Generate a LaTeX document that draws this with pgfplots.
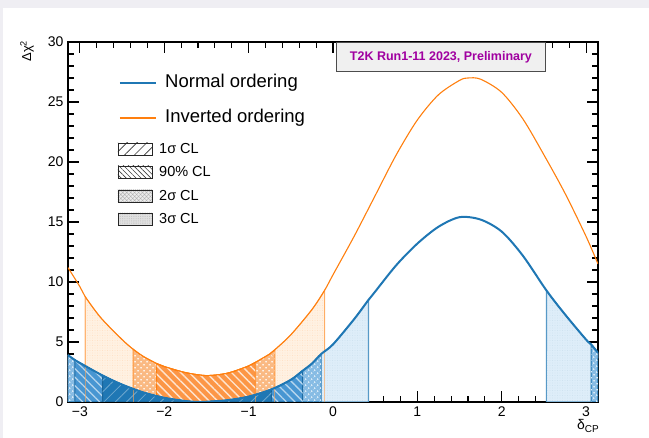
\documentclass[border=0pt]{standalone}
\usepackage{pgfplots}
\pgfplotsset{compat=1.18}
\usepackage{pgfplotstable}
\usepgfplotslibrary{fillbetween}
\usetikzlibrary{patterns,patterns.meta}
\usepackage{fontspec}
\setmainfont{Liberation Sans}

\definecolor{bgGrey}{RGB}{239,238,243}
\definecolor{noBlue}{RGB}{31,119,180}
\definecolor{ioOrange}{RGB}{255,127,14}
\definecolor{titlePurple}{RGB}{160,0,160}
% region fills
\definecolor{noThree}{RGB}{222,237,249}
\definecolor{noTwo}{RGB}{135,188,228}
\definecolor{noNinety}{RGB}{72,150,210}
\definecolor{ioThree}{RGB}{255,241,226}
\definecolor{ioTwo}{RGB}{250,185,130}
\definecolor{ioNinety}{RGB}{252,150,70}

% Normal ordering
\pgfplotstableread{
d chi
-3.1416 3.9
-3.06 3.5
-3.0 3.25
-2.73 2.2
-2.5 1.45
-2.25 0.8
-2.0 0.35
-1.75 0.08
-1.6 0.0
-1.5 0.02
-1.25 0.15
-1.0 0.45
-0.73 1.05
-0.5 1.85
-0.36 2.6
-0.25 3.2
-0.14 4.0
0.0 4.8
0.25 6.9
0.42 8.5
0.5 9.2
0.75 11.4
1.0 13.2
1.25 14.6
1.5 15.4
1.75 15.2
2.0 14.2
2.25 12.2
2.53 9.3
2.75 7.3
3.0 5.2
3.06 4.8
3.1416 4.1
}\noTable

% Inverted ordering
\pgfplotstableread{
d chi
-3.1416 11.2
-3.0 9.6
-2.94 8.8
-2.75 7.0
-2.5 5.2
-2.37 4.4
-2.25 3.8
-2.09 3.2
-2.0 2.95
-1.75 2.45
-1.5 2.2
-1.25 2.4
-1.0 3.0
-0.92 3.3
-0.75 4.0
-0.69 4.35
-0.5 5.6
-0.25 7.7
-0.1 9.3
0.0 10.6
0.25 13.8
0.5 17.2
0.75 20.6
1.0 23.5
1.25 25.6
1.5 26.8
1.6 27.0
1.75 26.9
2.0 25.8
2.25 23.6
2.5 20.6
2.75 17.4
3.0 13.8
3.1416 11.5
}\ioTable

\begin{document}
\begin{tikzpicture}[x=1pt,y=1pt]
\begin{axis}[
    scale only axis, width=530pt, height=360pt,
    xmin=-3.14159, xmax=3.14159, ymin=0, ymax=30,
    xtick={-3,-2,-1,0,1,2,3},
    xticklabels={−3,−2,−1,0,1,2,3},
    ytick={0,5,10,15,20,25,30},
    yticklabels={0,5,10,15,20,25,30},
    minor x tick num=4, minor y tick num=4,
    tick align=inside,
    major tick length=11pt, minor tick length=6pt,
    axis line style={line width=1.4pt},
    every tick/.style={black, line width=1.1pt},
    ticklabel style={font=\fontsize{14}{16}\selectfont},
    xticklabel style={yshift=-1pt},
    yticklabel style={xshift=-1pt},
    /pgf/number format/assume math mode=true,
]
\coordinate (O) at (rel axis cs:0,0);
\addplot[draw=none, name path=zero, forget plot] coordinates {(-3.1416,0) (3.1416,0)};
\addplot[draw=none, smooth, tension=0.5, name path=io, forget plot] table[x=d,y=chi]{\ioTable};
\addplot[draw=none, smooth, tension=0.5, name path=no, forget plot] table[x=d,y=chi]{\noTable};

% inverted ordering regions
\addplot[fill=ioThree, draw=ioOrange!55, line width=1pt,
    postaction={pattern={Dots[distance=2.5pt,radius=0.45pt]}, pattern color=ioOrange!30}]
    fill between[of=io and zero, soft clip={domain=-2.94:-0.1}];
\addplot[fill=ioTwo, draw=ioOrange!80, line width=1pt,
    postaction={pattern={Dots[angle=45,distance=4pt,radius=1.1pt]}, pattern color=white!80!ioTwo}]
    fill between[of=io and zero, soft clip={domain=-2.37:-0.69}];
\addplot[fill=ioNinety, draw=ioOrange, line width=1pt,
    postaction={pattern={Lines[angle=-45,distance=6pt,line width=1.4pt]}, pattern color=white!75!ioNinety}]
    fill between[of=io and zero, soft clip={domain=-2.09:-0.92}];

% normal ordering regions
\addplot[fill=noThree, draw=noBlue!75, line width=1.2pt,
    postaction={pattern={Dots[distance=2.5pt,radius=0.45pt]}, pattern color=noBlue!25}]
    fill between[of=no and zero, soft clip={domain=-3.1416:0.42}];
\addplot[fill=noThree, draw=noBlue!75, line width=1.2pt,
    postaction={pattern={Dots[distance=2.5pt,radius=0.45pt]}, pattern color=noBlue!25}]
    fill between[of=no and zero, soft clip={domain=2.53:3.1416}];
\addplot[fill=noTwo, draw=noBlue, line width=1pt,
    postaction={pattern={Dots[angle=45,distance=4pt,radius=1.1pt]}, pattern color=white!70!noTwo}]
    fill between[of=no and zero, soft clip={domain=-3.1416:-0.14}];
\addplot[fill=noTwo, draw=noBlue, line width=1pt,
    postaction={pattern={Dots[angle=45,distance=4pt,radius=1.1pt]}, pattern color=white!70!noTwo}]
    fill between[of=no and zero, soft clip={domain=3.06:3.1416}];
\addplot[fill=noNinety, draw=noBlue!90!black, line width=1pt,
    postaction={pattern={Lines[angle=-45,distance=6pt,line width=1.3pt]}, pattern color=white!60!noNinety}]
    fill between[of=no and zero, soft clip={domain=-3.06:-0.36}];
\addplot[fill=noBlue, draw=noBlue!85!black, line width=1pt,
    postaction={pattern={Lines[angle=45,distance=8pt,line width=0.8pt]}, pattern color=white!35!noBlue}]
    fill between[of=no and zero, soft clip={domain=-2.73:-0.73}];

% inverted ordering boundaries seen through the normal ordering fills
\addplot[ioOrange!70, line width=1pt, opacity=0.6, forget plot] coordinates {(-2.94,0) (-2.94,8.8)};
\addplot[ioOrange!70, line width=1pt, opacity=0.6, forget plot] coordinates {(-2.37,0) (-2.37,4.4)};
\addplot[ioOrange!70, line width=1pt, opacity=0.6, forget plot] coordinates {(-0.92,0) (-0.92,3.3)};
\addplot[ioOrange!70, line width=1pt, opacity=0.6, forget plot] coordinates {(-0.69,0) (-0.69,4.35)};
\addplot[ioOrange!70, line width=1pt, opacity=0.6, forget plot] coordinates {(-0.1,0) (-0.1,9.3)};

% curves
\addplot[ioOrange, line width=1.1pt, smooth, tension=0.5] table[x=d,y=chi]{\ioTable};
\addplot[noBlue, line width=2pt, smooth, tension=0.5] table[x=d,y=chi]{\noTable};
\end{axis}

% everything else is placed in image pixels (y upwards), origin = page corner
\begin{scope}[shift={(O)}]
\begin{scope}[shift={(-68,-36)}]
\path (0,0) rectangle (649,438);
\fill[bgGrey] (0,430) rectangle (649,438);
\fill[bgGrey] (0,0) rectangle (3,430);

% banner
\node[draw=black!70, fill=black!6, line width=0.9pt, minimum width=209pt, minimum height=29pt,
      anchor=north west, text=titlePurple, font=\bfseries\fontsize{12.5}{14}\selectfont]
      at (336,396) {T2K Run1-11 2023, Preliminary};

% axis titles
\node[rotate=90, font=\fontsize{13}{15}\selectfont] at (27,387) {Δχ\textsuperscript{2}};
\node[anchor=north east, inner sep=0pt, font=\fontsize{14}{16}\selectfont] at (599,19)
      {δ\raisebox{-0.45ex}{\fontsize{10}{12}\selectfont CP}};

% legend: curves
\draw[noBlue, line width=2pt] (120,355) -- (156,355);
\node[anchor=west, inner sep=0pt, font=\fontsize{18.5}{20}\selectfont] at (165,355) {Normal ordering};
\draw[ioOrange, line width=1.1pt] (120,320) -- (156,320);
\node[anchor=west, inner sep=0pt, font=\fontsize{18.5}{20}\selectfont] at (165,320) {Inverted ordering};

% legend: confidence levels
\draw[black!85, line width=0.8pt, pattern={Lines[angle=45,distance=7pt,line width=0.7pt]}, pattern color=black!80]
    (118,283) rectangle (152,295);
\node[anchor=west, inner sep=0pt, font=\fontsize{14.5}{16}\selectfont] at (159,289) {1σ CL};
\draw[black!85, line width=0.8pt, pattern={Lines[angle=-45,distance=3.5pt,line width=0.6pt]}, pattern color=black!75]
    (118,260) rectangle (152,272);
\node[anchor=west, inner sep=0pt, font=\fontsize{14.5}{16}\selectfont] at (159,266) {90\% CL};
\fill[black!7] (118,236) rectangle (152,248);
\fill[pattern={Hatch[angle=45,distance=2.8pt,line width=0.45pt]}, pattern color=black!30] (118,236) rectangle (152,248);
\draw[black!85, line width=0.8pt] (118,236) rectangle (152,248);
\node[anchor=west, inner sep=0pt, font=\fontsize{14.5}{16}\selectfont] at (159,242) {2σ CL};
\fill[black!12] (118,213) rectangle (152,225);
\fill[pattern={Dots[distance=1.8pt,radius=0.35pt]}, pattern color=black!30] (118,213) rectangle (152,225);
\draw[black!85, line width=0.8pt] (118,213) rectangle (152,225);
\node[anchor=west, inner sep=0pt, font=\fontsize{14.5}{16}\selectfont] at (159,219) {3σ CL};
\end{scope}
\end{scope}
\end{tikzpicture}
\end{document}
